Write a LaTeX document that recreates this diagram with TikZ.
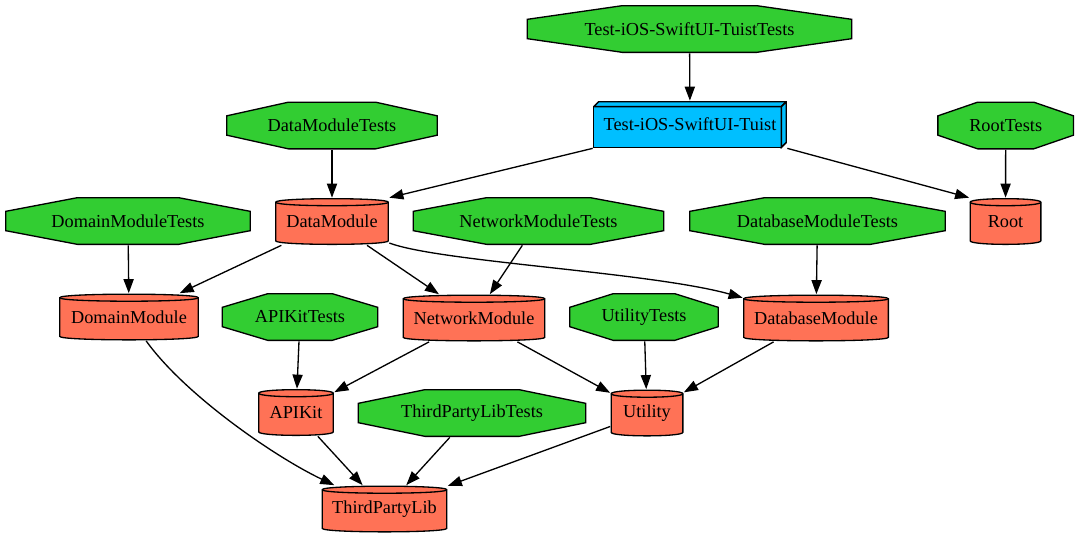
\documentclass[tikz,border=0pt]{standalone}
\usepackage{fontspec}
\setmainfont{Liberation Serif}
\usetikzlibrary{calc,arrows.meta}

\definecolor{testgreen}{RGB}{50,205,50}
\definecolor{modcoral}{RGB}{255,114,86}
\definecolor{appblue}{RGB}{0,191,255}

\newcommand{\pictcorners}{%
  \coordinate (sw) at ([shift={(0.375pt,0.375pt)}]path picture bounding box.south west);
  \coordinate (ne) at ([shift={(-0.375pt,-0.375pt)}]path picture bounding box.north east);
  \coordinate (nw) at (sw|-ne);
  \coordinate (se) at (ne|-sw);}

\tikzset{
  octnode/.style={minimum width=#1, minimum height=0.96cm, inner sep=0pt,
    path picture={\pictcorners
      \filldraw[fill=testgreen, line width=0.75pt]
        ($(sw)!0.293!(nw)$) -- ($(nw)!0.293!(sw)$) -- ($(nw)!0.293!(ne)$) -- ($(ne)!0.293!(nw)$)
        -- ($(ne)!0.293!(se)$) -- ($(se)!0.293!(ne)$) -- ($(se)!0.293!(sw)$) -- ($(sw)!0.293!(se)$) -- cycle;}},
  cylnode/.style={minimum width=#1, minimum height=0.94cm, inner sep=0pt,
    path picture={\pictcorners
      \filldraw[fill=modcoral, line width=0.75pt]
        ([yshift=-2pt]nw) -- ([yshift=2pt]sw)
        .. controls ([yshift=-0.67pt]sw) and ([yshift=-0.67pt]se) .. ([yshift=2pt]se)
        -- ([yshift=-2pt]ne)
        .. controls ([yshift=0.67pt]ne) and ([yshift=0.67pt]nw) .. ([yshift=-2pt]nw) -- cycle;
      \draw[line width=0.75pt] ([yshift=-2pt]nw)
        .. controls ([yshift=-4.67pt]nw) and ([yshift=-4.67pt]ne) .. ([yshift=-2pt]ne);}},
  boxnode/.style={minimum width=#1, minimum height=0.94cm, inner sep=0pt,
    path picture={\pictcorners
      \filldraw[fill=appblue, line width=0.9pt] (sw) rectangle ([shift={(-2.85pt,-2.85pt)}]ne);
      \filldraw[fill=appblue, line width=0.9pt] ([yshift=-2.85pt]nw) -- ([xshift=2.85pt]nw) -- (ne)
        -- ([shift={(-2.85pt,-2.85pt)}]ne) -- cycle;
      \filldraw[fill=appblue, line width=0.9pt] ([shift={(-2.85pt,-2.85pt)}]ne) -- (ne)
        -- ([yshift=2.85pt]se) -- ([xshift=-2.85pt]se) -- cycle;}},
  dep/.style={-{Triangle[length=8pt,width=5.8pt]}, line width=0.75pt}
}

\begin{document}
\begin{tikzpicture}[x=0.02cm, y=-0.02cm, every node/.style={font=\fontsize{10.4}{12}\selectfont}]
\useasboundingbox (0,0) rectangle (1077,539);

\node[octnode=6.52cm] (tuisttests) at (689.5,29) {Test-iOS-SwiftUI-TuistTests};
\node[boxnode=3.88cm] (tuist) at (690,124.5) {Test-iOS-SwiftUI-Tuist};
\node[octnode=4.24cm] (datatests) at (332,125.5) {DataModuleTests};
\node[octnode=2.74cm] (roottests) at (1005.7,125.5) {RootTests};

\node[octnode=4.92cm] (domaintests) at (128,221) {DomainModuleTests};
\node[cylnode=2.28cm] (datamod) at (332,221.5) {DataModule};
\node[octnode=5.04cm] (networktests) at (538.5,221) {NetworkModuleTests};
\node[octnode=5.14cm] (databasetests) at (817.5,221) {DatabaseModuleTests};
\node[cylnode=1.44cm] (root) at (1005.5,221.5) {Root};

\node[cylnode=2.80cm] (domainmod) at (129,317) {DomainModule};
\node[octnode=3.14cm] (apikittests) at (300,317) {APIKitTests};
\node[cylnode=2.86cm] (networkmod) at (474,318) {NetworkModule};
\node[octnode=3.00cm] (utiltests) at (644,317) {UtilityTests};
\node[cylnode=2.92cm] (databasemod) at (816,318) {DatabaseModule};

\node[cylnode=1.52cm] (apikit) at (296,412.5) {APIKit};
\node[octnode=4.58cm] (thirdtests) at (472,413) {ThirdPartyLibTests};
\node[cylnode=1.46cm] (utility) at (647,413) {Utility};

\node[cylnode=2.52cm] (thirdlib) at (384.5,509) {ThirdPartyLib};

\draw[dep] (tuisttests) -- (tuist);
\draw[dep] (tuist.south west) -- (datamod.north east);
\draw[dep] (tuist.south east) -- (root.north west);
\draw[dep] (datatests) -- (datamod);
\draw[dep] (roottests) -- (root);
\draw[dep] (domaintests) -- (domainmod);
\draw[dep] (datamod) -- (domainmod);
\draw[dep] (datamod) -- (networkmod);
\draw[dep] (datamod) .. controls (440,262) and (650,272) .. (databasemod);
\draw[dep] (networktests) -- (networkmod);
\draw[dep] (databasetests) -- (databasemod);
\draw[dep] (apikittests) -- (apikit);
\draw[dep] (networkmod) -- (apikit);
\draw[dep] (networkmod) -- (utility);
\draw[dep] (utiltests) -- (utility);
\draw[dep] (databasemod) -- (utility);
\draw[dep] (domainmod) .. controls (185,395) and (275,457) .. (thirdlib);
\draw[dep] (apikit) -- (thirdlib);
\draw[dep] (thirdtests) -- (thirdlib);
\draw[dep] (utility) -- (thirdlib);
\end{tikzpicture}
\end{document}
